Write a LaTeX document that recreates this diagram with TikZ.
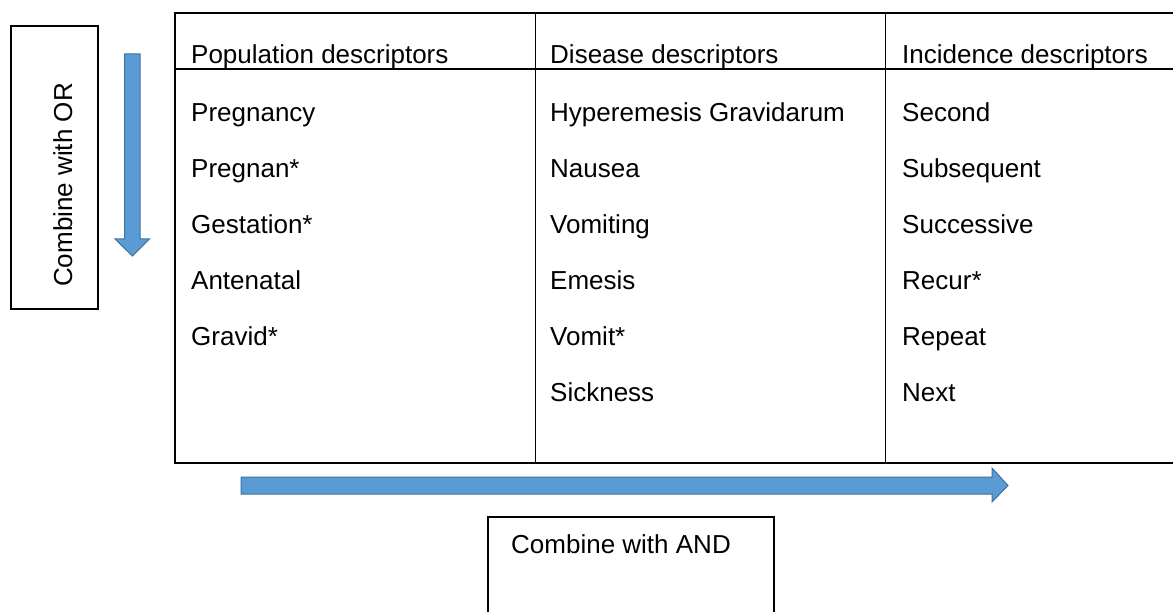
\documentclass[tikz,border=0pt]{standalone}
\usepackage{fontspec}
\setmainfont{Liberation Sans}
\definecolor{arrowfill}{HTML}{5B9BD5}
\definecolor{arrowline}{HTML}{41719C}
\begin{document}
\begin{tikzpicture}[x=1pt,y=-1pt,
  txt/.style={anchor=base west,inner sep=0pt,font=\fontsize{26}{30}\selectfont},
  frame/.style={draw=black,line width=2pt},
  inner/.style={draw=black,line width=1.6pt},
  bigarrow/.style={fill=arrowfill,draw=arrowline,line width=1pt,line join=miter}]
\useasboundingbox (0,0) rectangle (1173,612);
\fill[white] (0,0) rectangle (1173,612);
% OR box
\draw[inner] (11,26) rectangle (98,309);
\node[txt,rotate=90] (ortext) at (72,287) {Combine with OR};
% down arrow
\draw[bigarrow] (124.5,54) -- (140,54) -- (140,239) -- (149.5,239) -- (132.3,256) -- (115,239) -- (124.5,239) -- cycle;
% table
\draw[frame] (1175,13) -- (175,13) -- (175,463) -- (1175,463);
\draw[inner] (175,69) -- (1175,69);
\draw[inner] (535.5,13) -- (535.5,463);
\draw[inner] (885.5,13) -- (885.5,463);
% headers
\node[txt] (h1) at (191,64) {Population descriptors};
\node[txt] (h2) at (550,64) {Disease descriptors};
\node[txt] (h3) at (902,64) {Incidence descriptors};
% column 1
\node[txt] (a1) at (191,122) {Pregnancy};
\node[txt] (a2) at (191,178) {Pregnan*};
\node[txt] (a3) at (191,234) {Gestation*};
\node[txt] (a4) at (191,290) {Antenatal};
\node[txt] (a5) at (191,346) {Gravid*};
% column 2
\node[txt] (b1) at (550,122) {Hyperemesis Gravidarum};
\node[txt] (b2) at (550,178) {Nausea};
\node[txt] (b3) at (550,234) {Vomiting};
\node[txt] (b4) at (550,290) {Emesis};
\node[txt] (b5) at (550,346) {Vomit*};
\node[txt] (b6) at (550,401) {Sickness};
% column 3
\node[txt] (c1) at (902,122) {Second};
\node[txt] (c2) at (902,178) {Subsequent};
\node[txt] (c3) at (902,234) {Successive};
\node[txt] (c4) at (902,290) {Recur*};
\node[txt] (c5) at (902,346) {Repeat};
\node[txt] (c6) at (902,401) {Next};
% right arrow
\draw[bigarrow] (241,477) -- (992,477) -- (992,468) -- (1008,485.5) -- (992,502) -- (992,494) -- (241,494) -- cycle;
% AND box
\draw[inner] (488,614) -- (488,517) -- (774,517) -- (774,614);
\node[txt] (andtext) at (511,553) {Combine with AND};
\end{tikzpicture}
\end{document}
